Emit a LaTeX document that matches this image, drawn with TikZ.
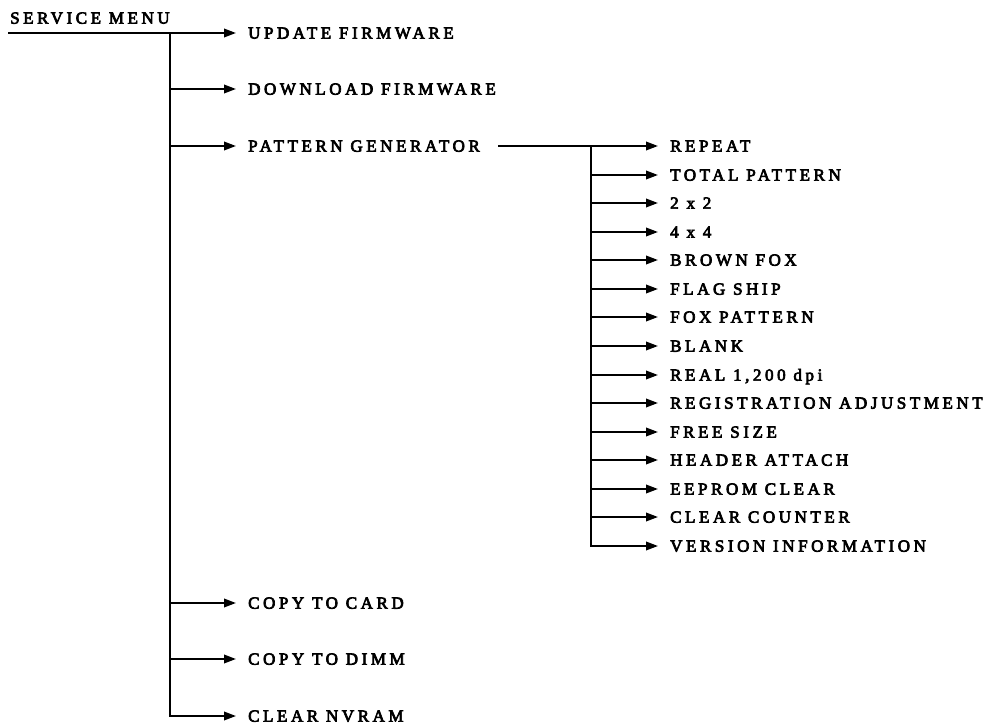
\documentclass[tikz,border=0pt]{standalone}
\usepackage{fontspec}
\setmainfont{Liberation Serif}
\newfontfamily\labfont[LetterSpace=21, FakeBold=4]{Liberation Serif}
\usetikzlibrary{arrows.meta}
\begin{document}
\begin{tikzpicture}[x=1pt,y=-1pt,
  lab/.style={anchor=west, inner sep=0pt, font=\labfont\fontsize{17}{19}\selectfont, text height=11.3pt, text depth=0pt},
  ln/.style={line width=2pt},
  thinln/.style={line width=1.3pt},
  arr/.style={ln, -{Triangle[length=12pt,width=8.5pt]}, shorten >=12pt}]
\useasboundingbox (0,0) rectangle (985,727);

% top level
\node[lab] (sm) at (10,18) {SERVICE MENU};
\coordinate (s0) at (8,33);
\coordinate (t) at (170,33);
\node[lab] (uf) at (248,33) {UPDATE FIRMWARE};
\node[lab] (df) at (248,89) {DOWNLOAD FIRMWARE};
\node[lab] (pg) at (248,146) {PATTERN GENERATOR};
\node[lab] (cc) at (248,603) {COPY TO CARD};
\node[lab] (cd) at (248,659) {COPY TO DIMM};
\node[lab] (nv) at (248,716) {CLEAR NVRAM};

\draw[arr] (s0) -- (uf.west);
\draw[arr] (t) |- (nv.west);
\foreach \n in {df,pg,cc,cd} \draw[arr] (t |- \n.west) -- (\n.west);

% pattern generator sub menu
\coordinate (pgs) at (498,146);
\coordinate (u) at (591,146);
\foreach \n/\t [count=\i from 0] in {
  rp/REPEAT, tp/TOTAL PATTERN, tt/2 x 2, ff/4 x 4, bf/BROWN FOX,
  fs/FLAG SHIP, fp/FOX PATTERN, bl/BLANK, rl/{REAL 1,200 dpi},
  ra/REGISTRATION ADJUSTMENT, fz/FREE SIZE, ha/HEADER ATTACH,
  ec/EEPROM CLEAR, cl/CLEAR COUNTER, vi/VERSION INFORMATION}
  \node[lab] (\n) at (670,{146+round(28.57*\i)}) {\t};

\draw[thinln] (pgs) -- (u);
\draw[arr] (u) -- (rp.west);
\draw[arr] (u) |- (vi.west);
\foreach \n in {tp,tt,ff,bf,fs,fp,bl,rl,ra,fz,ha,ec,cl}
  \draw[arr] (u |- \n.west) -- (\n.west);
\end{tikzpicture}
\end{document}
